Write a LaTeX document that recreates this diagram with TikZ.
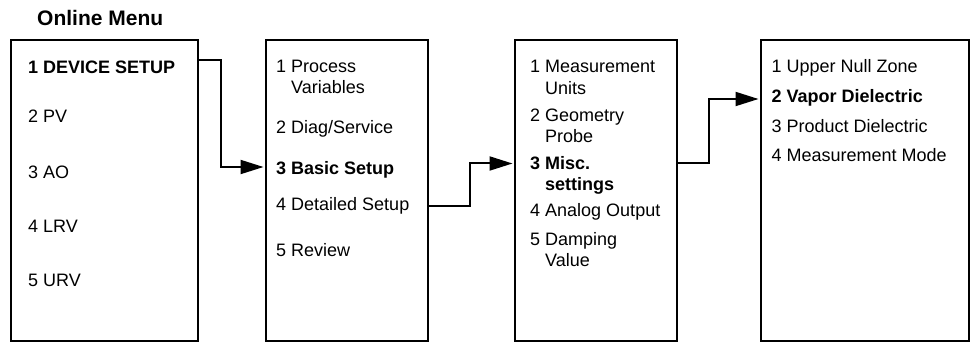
\documentclass[tikz,border=0pt]{standalone}
\usepackage{fontspec}
\setmainfont{Liberation Sans}
\usetikzlibrary{arrows.meta}
\begin{document}
\begin{tikzpicture}[x=1pt,y=-1pt,
  menubox/.style={draw, line width=2pt, inner sep=0pt, outer sep=0pt},
  item/.style={anchor=base west, inner sep=0pt, font=\fontsize{18}{21}\selectfont},
  bolditem/.style={anchor=base west, inner sep=0pt, font=\fontsize{18}{21}\selectfont\bfseries},
  conn/.style={line width=2pt, -{Triangle[length=23pt,width=14pt]}, shorten >=2.5pt}]
\useasboundingbox (0,0) rectangle (970,342);

% title
\node[anchor=base west, inner sep=0pt, font=\fontsize{21}{25}\selectfont\bfseries] (title) at (37,25.5) {Online Menu};

% boxes
\node[menubox, minimum width=186.5pt, minimum height=300.5pt] (b1) at (104.25,190.25) {};
\node[menubox, minimum width=161.5pt, minimum height=300.5pt] (b2) at (346.75,190.25) {};
\node[menubox, minimum width=161.5pt, minimum height=300.5pt] (b3) at (595.75,190.25) {};
\node[menubox, minimum width=207.5pt, minimum height=300.5pt] (b4) at (864.75,190.25) {};

% box 1 items
\node[bolditem] (i11) at (28,73.5) {1 DEVICE SETUP};
\node[item] (i12) at (28,123) {2 PV};
\node[item] (i13) at (28,178.5) {3 AO};
\node[item] (i14) at (28,232.5) {4 LRV};
\node[item] (i15) at (28,286.5) {5 URV};

% box 2 items
\node[item] (i21) at (276,73) {1 Process};
\node[item] (i21b) at (291,94) {Variables};
\node[item] (i22) at (276,134) {2 Diag/Service};
\node[bolditem] (i23) at (276,174.5) {3 Basic Setup};
\node[item] (i24) at (276,210.5) {4 Detailed Setup};
\node[item] (i25) at (276,256) {5 Review};

% box 3 items
\node[item] (i31) at (530,73) {1 Measurement};
\node[item] (i31b) at (545,94.5) {Units};
\node[item] (i32) at (530,121.5) {2 Geometry};
\node[item] (i32b) at (545,143) {Probe};
\node[bolditem] (i33) at (530,170) {3 Misc.};
\node[bolditem] (i33b) at (545,191) {settings};
\node[item] (i34) at (530,217) {4 Analog Output};
\node[item] (i35) at (530,245) {5 Damping};
\node[item] (i35b) at (545,266) {Value};

% box 4 items
\node[item] (i41) at (771.5,73) {1 Upper Null Zone};
\node[bolditem] (i42) at (771.5,102.5) {2 Vapor Dielectric};
\node[item] (i43) at (771.5,132.5) {3 Product Dielectric};
\node[item] (i44) at (771.5,161.5) {4 Measurement Mode};

% connectors
\coordinate (a1a) at (221,60);
\coordinate (a1b) at (221,167);
\draw[conn] (b1.east |- a1a) -- (a1a) -- (a1b) -- (b2.west |- a1b);

\coordinate (a2a) at (470,206.5);
\coordinate (a2b) at (470,163.5);
\draw[conn] (b2.east |- a2a) -- (a2a) -- (a2b) -- (b3.west |- a2b);

\coordinate (a3a) at (709,163.5);
\coordinate (a3b) at (709,99);
\draw[conn] (b3.east |- a3a) -- (a3a) -- (a3b) -- (b4.west |- a3b);
\end{tikzpicture}
\end{document}
